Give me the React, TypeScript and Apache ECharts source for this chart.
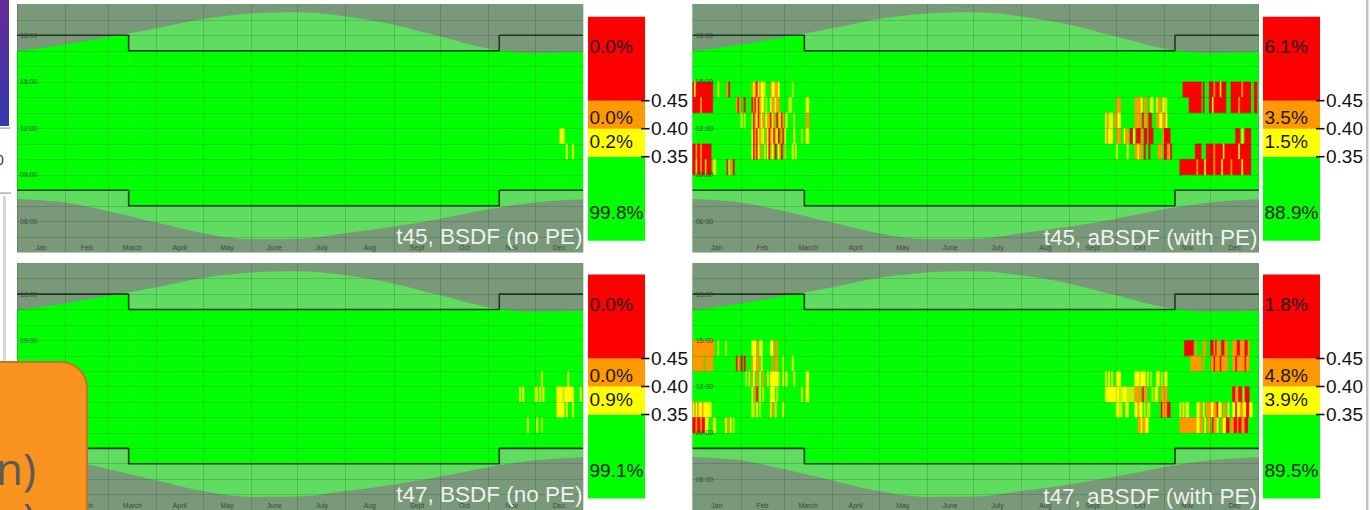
import React, { useEffect, useRef } from 'react';
import * as echarts from 'echarts';

// ---------------- data ----------------
const MONTH_NAMES = ['Jan', 'Feb', 'March', 'April', 'May', 'June', 'July', 'Aug', 'Sept', 'Oct', 'Nov', 'Dec'];
const MONTH_STARTS = [0, 31, 59, 90, 120, 151, 181, 212, 243, 273, 304, 334, 365];
const HOUR_LABELS = [6, 9, 12, 15, 18];
// sunset / sunrise (standard time, hours) at month starts
const SUNSET_HOURS = [16.95, 17.4, 17.88, 18.45, 19.05, 19.4, 19.48, 19.22, 18.68, 17.92, 17.15, 16.85, 16.92];
const SUNRISE_HOURS = [7.44, 7.22, 6.65, 5.92, 5.23, 4.85, 4.87, 5.23, 5.66, 6.17, 6.78, 7.22, 7.42];
// occupied periods: [firstDay, lastDay, startHour, endHour]
const OCCUPANCY = [
  [0, 72, 8, 18],
  [72, 311, 7, 17],
  [311, 365, 8, 18],
];
// DGP legend band edges and thresholds
const DGP_EDGES = [0.2, 0.35, 0.4, 0.45, 0.6];
const DGP_TICKS = [0.35, 0.4, 0.45];

const TITLES = ['t45, BSDF (no PE)', 't45, aBSDF (with PE)', 't47, BSDF (no PE)', 't47, aBSDF (with PE)'];
// shares per band: green, yellow, orange, red
const SHARES_T45_BSDF = ['99.8%', '0.2%', '0.0%', '0.0%'];
const SHARES_T45_ABSDF = ['88.9%', '1.5%', '3.5%', '6.1%'];
const SHARES_T47_BSDF = ['99.1%', '0.9%', '0.0%', '0.0%'];
const SHARES_T47_ABSDF = ['89.5%', '3.9%', '4.8%', '1.8%'];

// glare cells: [fromDay, toDay, hour, level]  level 0 = weak, 1 = 0.35-0.40, 2 = 0.40-0.45, 3 = >0.45
const GLARE_T45_BSDF = [
  [350, 353, 11, 1], [354, 355, 10, 1], [358, 359, 10, 1],
];

const GLARE_T47_BSDF = [
  [338, 339, 12, 1], [355, 356, 12, 1],
  [324, 325, 11, 1], [326, 327, 11, 1], [334, 335, 11, 1], [335, 336, 11, 0], [337, 338, 11, 1], [339, 340, 11, 1],
  [348, 352, 11, 1], [352, 353, 11, 0], [353, 359, 11, 1], [363, 364, 11, 1],
  [348, 353, 10, 1], [354, 355, 10, 1], [358, 359, 10, 1],
  [329, 330, 9, 1], [335, 336, 9, 1], [338, 339, 9, 0],
];

const GLARE_T45_ABSDF = [
  // January
  [0, 1, 14, 3], [1, 2, 14, 1], [2, 13, 14, 3], [16, 17, 14, 1], [22, 23, 14, 2], [23, 24, 14, 3],
  [0, 5, 13, 3], [5, 6, 13, 2], [6, 13, 13, 3],
  [0, 2, 10, 3], [2, 3, 10, 2], [3, 5, 10, 3], [5, 6, 10, 2], [6, 12, 10, 3],
  [0, 2, 9, 3], [2, 3, 9, 1], [3, 5, 9, 3], [5, 6, 9, 2], [6, 8, 9, 3], [8, 9, 9, 0], [9, 12, 9, 3],
  [13, 14, 9, 0], [14, 15, 9, 1], [22, 23, 9, 3], [23, 24, 9, 0], [24, 25, 9, 2], [26, 27, 9, 3],
  // February - March
  [38, 39, 14, 2], [39, 40, 14, 1], [40, 41, 14, 2], [41, 42, 14, 3], [42, 43, 14, 1], [43, 44, 14, 2],
  [44, 46, 14, 1], [46, 47, 14, 0], [50, 51, 14, 2], [51, 53, 14, 1], [53, 55, 14, 2], [55, 56, 14, 1], [64, 65, 14, 0],
  [28, 29, 13, 2], [29, 30, 13, 3], [30, 31, 13, 2], [33, 34, 13, 3], [38, 39, 13, 3], [39, 40, 13, 2],
  [40, 41, 13, 3], [41, 42, 13, 1], [42, 43, 13, 3], [43, 44, 13, 2], [44, 46, 13, 1], [47, 48, 13, 0],
  [50, 51, 13, 1], [51, 53, 13, 2], [53, 54, 13, 1], [54, 56, 13, 2], [62, 63, 13, 1], [63, 64, 13, 0], [73, 75, 13, 1],
  [31, 32, 12, 1], [33, 34, 12, 0], [38, 39, 12, 0], [39, 40, 12, 3], [40, 41, 12, 2], [41, 42, 12, 1],
  [42, 43, 12, 3], [43, 44, 12, 2], [44, 45, 12, 1], [45, 46, 12, 2], [47, 48, 12, 1], [48, 50, 12, 2],
  [50, 51, 12, 3], [51, 52, 12, 1], [52, 53, 12, 2], [54, 55, 12, 3], [55, 56, 12, 2], [56, 57, 12, 1],
  [57, 58, 12, 3], [58, 59, 12, 2], [60, 61, 12, 1], [65, 66, 12, 0], [73, 75, 12, 2],
  [38, 39, 11, 1], [39, 40, 11, 3], [40, 41, 11, 2], [41, 42, 11, 3], [42, 43, 11, 1], [43, 44, 11, 2],
  [44, 45, 11, 0], [45, 46, 11, 1], [47, 48, 11, 2], [48, 49, 11, 1], [49, 50, 11, 3], [50, 51, 11, 2],
  [51, 52, 11, 1], [52, 53, 11, 3], [53, 54, 11, 2], [54, 55, 11, 1], [55, 56, 11, 3], [57, 58, 11, 2],
  [58, 59, 11, 3], [59, 60, 11, 1], [65, 66, 11, 1], [70, 71, 11, 0], [73, 75, 11, 1],
  [38, 39, 10, 1], [39, 40, 10, 3], [40, 41, 10, 2], [41, 42, 10, 3], [42, 43, 10, 1], [44, 45, 10, 2],
  [46, 47, 10, 0], [48, 49, 10, 1], [49, 50, 10, 3], [50, 51, 10, 2], [51, 52, 10, 1], [53, 54, 10, 3],
  [55, 56, 10, 1], [56, 57, 10, 2], [57, 58, 10, 3], [59, 60, 10, 0], [64, 65, 10, 1], [66, 67, 10, 1],
  // September - October
  [273, 276, 13, 2], [285, 289, 13, 2], [289, 290, 13, 1], [291, 293, 13, 2], [295, 297, 13, 1],
  [299, 300, 13, 1], [300, 302, 13, 2], [303, 305, 13, 1], [305, 306, 13, 0],
  [266, 267, 12, 1], [267, 268, 12, 2], [268, 269, 12, 0], [269, 271, 12, 1], [272, 274, 12, 2], [274, 276, 12, 1],
  [285, 289, 12, 2], [290, 291, 12, 3], [291, 293, 12, 2], [294, 296, 12, 3], [299, 301, 12, 2], [301, 303, 12, 1],
  [303, 305, 12, 2], [305, 306, 12, 1],
  [266, 267, 11, 1], [267, 268, 11, 2], [268, 271, 11, 1], [273, 276, 11, 2], [278, 279, 11, 1], [279, 281, 11, 2],
  [282, 284, 11, 3], [284, 285, 11, 1], [286, 289, 11, 3], [289, 290, 11, 2], [291, 293, 11, 3], [294, 297, 11, 3],
  [303, 304, 11, 2], [304, 308, 11, 3],
  [273, 274, 10, 1], [280, 281, 10, 1], [285, 287, 10, 2], [287, 288, 10, 1], [288, 290, 10, 2], [291, 292, 10, 3],
  [294, 295, 10, 3], [300, 303, 10, 2], [304, 306, 10, 3], [306, 308, 10, 2], [308, 309, 10, 3],
  // November - December
  [316, 328, 14, 3], [329, 330, 14, 3], [333, 336, 14, 3], [336, 337, 14, 2], [337, 340, 14, 3], [340, 341, 14, 1],
  [341, 344, 14, 3], [347, 354, 14, 3], [354, 355, 14, 2], [355, 360, 14, 3], [362, 364, 14, 3],
  [320, 328, 13, 3], [329, 330, 13, 3], [333, 335, 13, 3], [335, 336, 13, 1], [336, 344, 13, 3], [347, 352, 13, 3],
  [352, 353, 13, 2], [353, 360, 13, 3], [362, 364, 13, 3],
  [350, 353, 11, 3], [354, 355, 11, 1], [356, 360, 11, 3],
  [324, 328, 10, 3], [331, 336, 10, 3], [336, 337, 10, 2], [337, 342, 10, 3], [342, 343, 10, 1], [343, 352, 10, 3],
  [352, 353, 10, 1], [353, 360, 10, 3],
  [314, 325, 9, 3], [325, 326, 9, 2], [326, 330, 9, 3], [330, 331, 9, 1], [331, 336, 9, 3], [336, 337, 9, 2],
  [337, 341, 9, 3], [341, 342, 9, 1], [342, 347, 9, 3], [347, 348, 9, 2], [348, 354, 9, 3], [354, 355, 9, 1], [355, 360, 9, 3],
];

const GLARE_T47_ABSDF = [
  // January
  [0, 14, 14, 2], [16, 17, 14, 0], [21, 22, 14, 0],
  [0, 7, 13, 2], [8, 13, 13, 2],
  [0, 1, 10, 1], [1, 2, 10, 2], [2, 3, 10, 1], [3, 4, 10, 2], [4, 6, 10, 1], [6, 7, 10, 2], [7, 12, 10, 1],
  [0, 2, 9, 3], [2, 3, 9, 2], [3, 5, 9, 3], [5, 6, 9, 2], [6, 8, 9, 3], [8, 10, 9, 1], [13, 14, 9, 0], [14, 15, 9, 1],
  [21, 22, 9, 1], [22, 23, 9, 2], [24, 25, 9, 1], [26, 27, 9, 0],
  // February - March
  [38, 41, 14, 1], [41, 42, 14, 2], [43, 45, 14, 1], [50, 52, 14, 1], [52, 53, 14, 2], [54, 55, 14, 2],
  [28, 29, 13, 3], [29, 30, 13, 2], [31, 32, 13, 3], [33, 34, 13, 3], [38, 39, 13, 2], [39, 41, 13, 1],
  [41, 43, 13, 2], [44, 45, 13, 1], [51, 52, 13, 2], [53, 55, 13, 2], [58, 59, 13, 0], [64, 65, 13, 1],
  [34, 35, 12, 0], [36, 37, 12, 0], [38, 39, 12, 2], [39, 40, 12, 1], [41, 42, 12, 2], [43, 44, 12, 1],
  [45, 46, 12, 2], [48, 49, 12, 1], [50, 55, 12, 1], [55, 56, 12, 0], [58, 59, 12, 1], [60, 61, 12, 1],
  [65, 66, 12, 1], [73, 75, 12, 1],
  [38, 39, 11, 1], [40, 41, 11, 2], [41, 42, 11, 3], [43, 44, 11, 1], [45, 46, 11, 0], [50, 53, 11, 1],
  [54, 55, 11, 0], [70, 71, 11, 1], [73, 75, 11, 1],
  [38, 39, 10, 1], [39, 40, 10, 0], [41, 42, 10, 1], [43, 44, 10, 0], [50, 51, 10, 1], [51, 52, 10, 2],
  [53, 54, 10, 1], [58, 59, 10, 1],
  // September - October
  [266, 267, 12, 1], [268, 269, 12, 1], [270, 271, 12, 1], [273, 276, 12, 1], [285, 288, 12, 1], [288, 289, 12, 0],
  [289, 292, 12, 1], [293, 294, 12, 1], [295, 296, 12, 0], [299, 301, 12, 1], [302, 303, 12, 0], [304, 306, 12, 1],
  [266, 275, 11, 1], [275, 277, 11, 0], [277, 280, 11, 1], [280, 285, 11, 0], [285, 289, 11, 2], [290, 291, 11, 3],
  [291, 293, 11, 2], [296, 297, 11, 0], [298, 300, 11, 1], [302, 306, 11, 2],
  [273, 275, 10, 1], [275, 277, 10, 0], [279, 281, 10, 1], [285, 287, 10, 1], [287, 288, 10, 2], [288, 290, 10, 1],
  [291, 292, 10, 0], [293, 295, 10, 0], [302, 303, 10, 3], [303, 306, 10, 2], [306, 308, 10, 3],
  [287, 289, 9, 2], [289, 290, 9, 1], [290, 292, 9, 2], [292, 294, 9, 1],
  // November - December
  [317, 323, 14, 3], [324, 325, 14, 2], [329, 331, 14, 2], [334, 336, 14, 3], [336, 337, 14, 2], [337, 338, 14, 3],
  [338, 340, 14, 2], [341, 343, 14, 3], [343, 345, 14, 2], [348, 351, 14, 2], [351, 353, 14, 3], [353, 356, 14, 2],
  [356, 358, 14, 3], [358, 359, 14, 2],
  [321, 328, 13, 2], [329, 330, 13, 2], [334, 336, 13, 2], [336, 337, 13, 3], [337, 340, 13, 2], [340, 341, 13, 3],
  [341, 345, 13, 2], [348, 350, 13, 2], [350, 351, 13, 3], [351, 356, 13, 2], [356, 357, 13, 3], [357, 359, 13, 2],
  [348, 350, 11, 3], [350, 352, 11, 2], [352, 354, 11, 3], [355, 356, 11, 0], [356, 359, 11, 3],
  [314, 315, 10, 1], [316, 317, 10, 1], [318, 320, 10, 1], [325, 327, 10, 1], [327, 328, 10, 2], [329, 330, 10, 1],
  [331, 334, 10, 2], [334, 336, 10, 1], [336, 338, 10, 2], [338, 339, 10, 3], [339, 341, 10, 1], [342, 344, 10, 2],
  [345, 346, 10, 1], [348, 350, 10, 1], [350, 351, 10, 3], [351, 353, 10, 1], [353, 355, 10, 2], [355, 357, 10, 1],
  [357, 359, 10, 3], [359, 361, 10, 1],
  [314, 325, 9, 2], [325, 327, 9, 1], [327, 329, 9, 2], [330, 331, 9, 1], [332, 334, 9, 2], [335, 336, 9, 3],
  [336, 338, 9, 2], [338, 339, 9, 1], [341, 342, 9, 2], [342, 344, 9, 1], [344, 346, 9, 3], [347, 349, 9, 2],
  [349, 351, 9, 3], [351, 352, 9, 2], [352, 354, 9, 3], [354, 356, 9, 2], [356, 358, 9, 3],
];

const PANEL_GLARE = [GLARE_T45_BSDF, GLARE_T45_ABSDF, GLARE_T47_BSDF, GLARE_T47_ABSDF];
const PANEL_SHARES = [SHARES_T45_BSDF, SHARES_T45_ABSDF, SHARES_T47_BSDF, SHARES_T47_ABSDF];

// ---------------- layout & style ----------------
const FONT = '"Liberation Sans", Arial, sans-serif';
const GRID_W = 566;
const GRID_H = 248;
const LEGEND_W = 57;
const LEGEND_H = 224;
const PANEL_POS = [
  { left: 17, top: 4.3, legendLeft: 588, legendTop: 16.7, titleX: 582.5, titleY: 236.8 },
  { left: 692.7, top: 4.3, legendLeft: 1263, legendTop: 16.7, titleX: 1257.5, titleY: 237.5 },
  { left: 17, top: 263.3, legendLeft: 588, legendTop: 274.5, titleX: 582.5, titleY: 494.5 },
  { left: 692.7, top: 263.3, legendLeft: 1263, legendTop: 274.5, titleX: 1257, titleY: 496 },
];
const NIGHT = '#7a997a';
const DAYLIGHT = '#60dc60';
const OCCUPIED = '#00ff00';
const STEP_LINE = '#1d3b1d';
const GRID_LINE = 'rgba(0,30,0,0.16)';
const LEVEL_COLORS = ['#c4ef00', '#ffff00', '#ff9900', '#ff0000'];
const BAND_COLORS = ['#00ff00', '#ffff00', '#ff9900', '#ff0000'];
const BAND_LABEL_DY = [55.5, 13, 16.5, 30];

const MONTH_CENTERS = MONTH_STARTS.slice(0, -1).map((s, i) => (s + MONTH_STARTS[i + 1]) / 2);

function monthName(v: number) {
  let best = 0;
  MONTH_CENTERS.forEach((c, i) => {
    if (Math.abs(c - v) < Math.abs(MONTH_CENTERS[best] - v)) best = i;
  });
  return MONTH_NAMES[best];
}

function buildOption() {
  const grid: any[] = [];
  const xAxis: any[] = [];
  const yAxis: any[] = [];
  const series: any[] = [];
  const graphic: any[] = [];

  PANEL_POS.forEach((pos, i) => {
    const gi = grid.length;
    grid.push({ left: pos.left, top: pos.top, width: GRID_W, height: GRID_H, show: true, backgroundColor: DAYLIGHT, borderWidth: 0 });
    xAxis.push({
      gridIndex: gi, type: 'value', min: 0, max: 365, z: 10,
      axisLine: { show: false },
      axisTick: { show: false, customValues: MONTH_STARTS },
      splitLine: { show: true, lineStyle: { color: GRID_LINE, width: 1 } },
      axisLabel: {
        inside: true, margin: 1.5, customValues: MONTH_CENTERS, formatter: (v: number) => monthName(v),
        fontSize: 7, color: '#3b4a3b', fontFamily: FONT,
      },
    });
    yAxis.push({
      gridIndex: gi, type: 'value', min: 4, max: 20, interval: 1, z: 10,
      axisLine: { show: false }, axisTick: { show: false },
      splitLine: { show: true, lineStyle: { color: GRID_LINE, width: 1 } },
      axisLabel: {
        inside: true, margin: 3, fontSize: 7, color: '#3b4a3b', fontFamily: FONT,
        formatter: (v: number) => (HOUR_LABELS.includes(v) ? `${String(v).padStart(2, '0')}:00` : ''),
      },
    });

    // occupied hours
    series.push({
      type: 'custom', xAxisIndex: gi, yAxisIndex: gi, z: 1, silent: true,
      encode: { x: [0, 1], y: [2, 3] },
      data: OCCUPANCY,
      renderItem: (params: any, api: any) => {
        const p0 = api.coord([api.value(0), api.value(3)]);
        const p1 = api.coord([api.value(1), api.value(2)]);
        return { type: 'rect', shape: { x: p0[0], y: p0[1], width: p1[0] - p0[0], height: p1[1] - p0[1] }, style: { fill: OCCUPIED } };
      },
    });
    // glare
    series.push({
      type: 'custom', xAxisIndex: gi, yAxisIndex: gi, z: 2, silent: true,
      encode: { x: [0, 1], y: 2 },
      data: PANEL_GLARE[i],
      renderItem: (params: any, api: any) => {
        const h = api.value(2);
        const p0 = api.coord([api.value(0), h + 1]);
        const p1 = api.coord([api.value(1), h]);
        const c = LEVEL_COLORS[api.value(3)];
        return {
          type: 'rect',
          shape: { x: p0[0], y: p0[1], width: p1[0] - p0[0], height: p1[1] - p0[1] },
          style: { fill: c, stroke: c, lineWidth: 0.3 },
        };
      },
    });
    // night (after sunset / before sunrise)
    series.push({
      type: 'line', xAxisIndex: gi, yAxisIndex: gi, z: 3, silent: true, symbol: 'none', smooth: 0.35,
      data: MONTH_STARTS.map((d, k) => [d, SUNSET_HOURS[k]]),
      lineStyle: { width: 0 }, areaStyle: { color: NIGHT, opacity: 1, origin: 'end' },
    });
    series.push({
      type: 'line', xAxisIndex: gi, yAxisIndex: gi, z: 3, silent: true, symbol: 'none', smooth: 0.35,
      data: MONTH_STARTS.map((d, k) => [d, SUNRISE_HOURS[k]]),
      lineStyle: { width: 0 }, areaStyle: { color: NIGHT, opacity: 1, origin: 'start' },
    });
    // occupancy boundaries
    series.push({
      type: 'line', xAxisIndex: gi, yAxisIndex: gi, z: 4, silent: true, symbol: 'none',
      data: OCCUPANCY.flatMap(([d0, d1, , h1]) => [[d0, h1], [d1, h1]]),
      lineStyle: { color: STEP_LINE, width: 1.6 },
    });
    series.push({
      type: 'line', xAxisIndex: gi, yAxisIndex: gi, z: 4, silent: true, symbol: 'none',
      data: OCCUPANCY.flatMap(([d0, d1, h0]) => [[d0, h0], [d1, h0]]),
      lineStyle: { color: STEP_LINE, width: 1.6 },
    });

    // legend bar
    const li = grid.length;
    const shares = PANEL_SHARES[i];
    grid.push({ left: pos.legendLeft, top: pos.legendTop, width: LEGEND_W, height: LEGEND_H, show: false });
    xAxis.push({ gridIndex: li, type: 'value', min: 0, max: 1, show: false });
    yAxis.push({
      gridIndex: li, type: 'value', min: 0.2, max: 0.6, position: 'right',
      axisLine: { show: false }, splitLine: { show: false }, axisTick: { show: false },
      axisLabel: { customValues: DGP_TICKS, formatter: (v: number) => v.toFixed(2), margin: 6, fontSize: 19, color: '#111', fontFamily: FONT },
    });
    series.push({
      type: 'custom', xAxisIndex: li, yAxisIndex: li, z: 2, silent: true,
      encode: { x: [0, 1], y: [2, 3] },
      data: DGP_EDGES.slice(0, -1).map((lo, k) => [0, 1, lo, DGP_EDGES[k + 1]]),
      renderItem: (params: any, api: any) => {
        const k = params.dataIndex;
        const p0 = api.coord([0, api.value(3)]);
        const p1 = api.coord([1, api.value(2)]);
        return {
          type: 'group',
          children: [
            { type: 'rect', shape: { x: p0[0], y: p0[1], width: p1[0] - p0[0], height: p1[1] - p0[1] }, style: { fill: BAND_COLORS[k] } },
            {
              type: 'text', x: p0[0] + 1.5, y: p0[1] + BAND_LABEL_DY[k],
              style: { text: shares[k], fontSize: 19, fontFamily: FONT, fill: '#171717', align: 'left', verticalAlign: 'middle' },
            },
          ],
        };
      },
    });
    // threshold tick marks at the bar's right edge
    series.push({
      type: 'custom', xAxisIndex: li, yAxisIndex: li, z: 5, silent: true, clip: false,
      encode: { y: 0 },
      data: DGP_TICKS.map((v) => [v]),
      renderItem: (params: any, api: any) => {
        const p = api.coord([1, api.value(0)]);
        return { type: 'line', shape: { x1: p[0] - 4, y1: p[1], x2: p[0] + 4.5, y2: p[1] }, style: { stroke: '#111', lineWidth: 1.6 } };
      },
    });

    graphic.push({
      type: 'text', x: pos.titleX, y: pos.titleY, z: 100, silent: true,
      style: { text: TITLES[i], align: 'right', verticalAlign: 'middle', fontSize: 22.5, fontFamily: FONT, fill: 'rgba(248,248,248,0.95)' },
    });
  });

  // surrounding slide fragments
  graphic.push(
    {
      type: 'rect', z: 50, silent: true, shape: { x: 0, y: 0, width: 9, height: 126 },
      style: { fill: { type: 'linear', x: 0, y: 0, x2: 0, y2: 1, colorStops: [{ offset: 0, color: '#6a2a98' }, { offset: 1, color: '#2f3aac' }] } },
    },
    { type: 'rect', z: 50, silent: true, shape: { x: 0, y: 127.5, width: 10, height: 1.2 }, style: { fill: '#9a9a9a' } },
    { type: 'text', z: 50, silent: true, x: -4, y: 160, style: { text: '0', fontSize: 14, fontFamily: FONT, fill: '#333', verticalAlign: 'middle' } },
    { type: 'rect', z: 50, silent: true, shape: { x: 0, y: 192.5, width: 11, height: 1.2 }, style: { fill: '#9a9a9a' } },
    { type: 'rect', z: 50, silent: true, shape: { x: 3, y: 196, width: 3, height: 170 }, style: { fill: '#d6d6d6' } },
    { type: 'rect', z: 50, silent: true, shape: { x: 1366, y: 0, width: 2.5, height: 510 }, style: { fill: '#c2c2c2' } },
    {
      type: 'rect', z: 200, silent: true, shape: { x: -30, y: 362, width: 117, height: 200, r: 26 },
      style: { fill: '#f7931e', stroke: '#c4742a', lineWidth: 2 },
    },
    { type: 'text', z: 201, silent: true, x: -4, y: 468, style: { text: 'n)', fontSize: 44, fontFamily: '"Open Sans", sans-serif', fill: '#5a5a5a', verticalAlign: 'middle' } },
    { type: 'text', z: 201, silent: true, x: 23, y: 518, style: { text: ')', fontSize: 44, fontFamily: '"Open Sans", sans-serif', fill: '#5a5a5a', verticalAlign: 'middle' } },
  );

  return {
    animation: false,
    backgroundColor: '#ffffff',
    textStyle: { fontFamily: FONT },
    grid, xAxis, yAxis, series, graphic,
  };
}

export default function App() {
  const ref = useRef<HTMLDivElement>(null);
  useEffect(() => {
    if (!ref.current) return;
    const chart = echarts.init(ref.current, null, { renderer: 'svg' });
    chart.setOption(buildOption() as any);
    return () => chart.dispose();
  }, []);
  return <div ref={ref} style={{ position: 'absolute', left: 0, top: 0, width: 1371, height: 510 }} />;
}
